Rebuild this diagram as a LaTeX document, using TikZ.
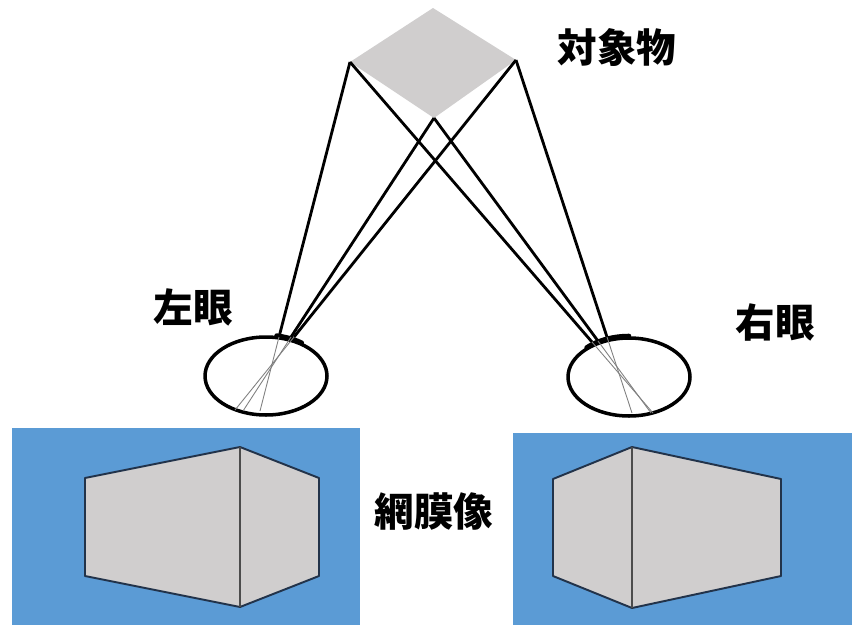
\documentclass[tikz,border=0pt]{standalone}
\usepackage{fontspec}
\newfontfamily\jpfont{Noto Sans CJK JP}
\usetikzlibrary{shapes.geometric}

\definecolor{retinablue}{HTML}{5B9BD5}
\definecolor{objgray}{HTML}{D0CECE}
\definecolor{edgenavy}{HTML}{22334A}

\begin{document}
\begin{tikzpicture}[x=0.02cm,y=-0.02cm,
    ray/.style={line width=1.6pt,black},
    refracted/.style={line width=0.5pt,gray},
    eye/.style={ellipse,draw,line width=2pt,minimum width=2.44cm,minimum height=1.56cm,inner sep=0pt},
    cornea/.style={line width=2.6pt,line cap=round},
    jptext/.style={font=\jpfont\bfseries\fontsize{22.5}{26}\selectfont},
    face/.style={fill=objgray,draw=edgenavy,line width=1.1pt,line join=round}]

  \useasboundingbox (0,0) rectangle (852,626);

  % object seen by both eyes
  \coordinate (objT) at (433,8);
  \coordinate (objL) at (350,62);
  \coordinate (objR) at (516,60);
  \coordinate (objB) at (434,118);
  \fill[objgray] (objT) -- (objR) -- (objB) -- (objL) -- cycle;

  \node[eye] (leye) at (266,376) {};
  \node[eye] (reye) at (629,377) {};

  \draw[cornea] plot[domain=54:80,variable=\t,samples=12] ({266+61*cos(\t)},{376-41*sin(\t)});
  \draw[cornea] plot[domain=90:134,variable=\t,samples=12] ({629+61*cos(\t)},{377-41*sin(\t)});

  % where the rays enter and where they hit the back of the eye
  \coordinate (lin1) at (279,337);
  \coordinate (lin2) at (291,337);
  \coordinate (lin3) at (294,337);
  \coordinate (lback1) at (260,411);
  \coordinate (lback2) at (243,411);
  \coordinate (lback3) at (235,410);

  \coordinate (rin1) at (592,342);
  \coordinate (rin2) at (598,341);
  \coordinate (rin3) at (607,337);
  \coordinate (rback1) at (653,413);
  \coordinate (rback2) at (651,413);
  \coordinate (rback3) at (632,413);

  \draw[ray] (objL) -- (lin1);
  \draw[ray] (objB) -- (lin2);
  \draw[ray] (objR) -- (lin3);
  \draw[ray] (objL) -- (rin1);
  \draw[ray] (objB) -- (rin2);
  \draw[ray] (objR) -- (rin3);

  \draw[refracted] (lin1) -- (lback1);
  \draw[refracted] (lin2) -- (lback2);
  \draw[refracted] (lin3) -- (lback3);
  \draw[refracted] (rin1) -- (rback1);
  \draw[refracted] (rin2) -- (rback2);
  \draw[refracted] (rin3) -- (rback3);

  % retinal images
  \fill[retinablue] (12,428) rectangle (360,625);
  \fill[retinablue] (513,433) rectangle (852,625);

  \draw[face] (85,478) -- (240,447) -- (319,478) -- (319,576) -- (240,607) -- (85,576) -- cycle;
  \draw[line width=1pt,black!70] (240,447) -- (240,607);

  \draw[face] (553,479) -- (632,447) -- (781,479) -- (781,576) -- (632,608) -- (553,576) -- cycle;
  \draw[line width=1pt,black!70] (632,447) -- (632,608);

  \node[jptext] (objlabel) at (617,47) {対象物};
  \node[jptext] (leftlabel) at (193,307) {左眼};
  \node[jptext] (rightlabel) at (775,322) {右眼};
  \node[jptext] (retlabel) at (434,512) {網膜像};

\end{tikzpicture}
\end{document}
